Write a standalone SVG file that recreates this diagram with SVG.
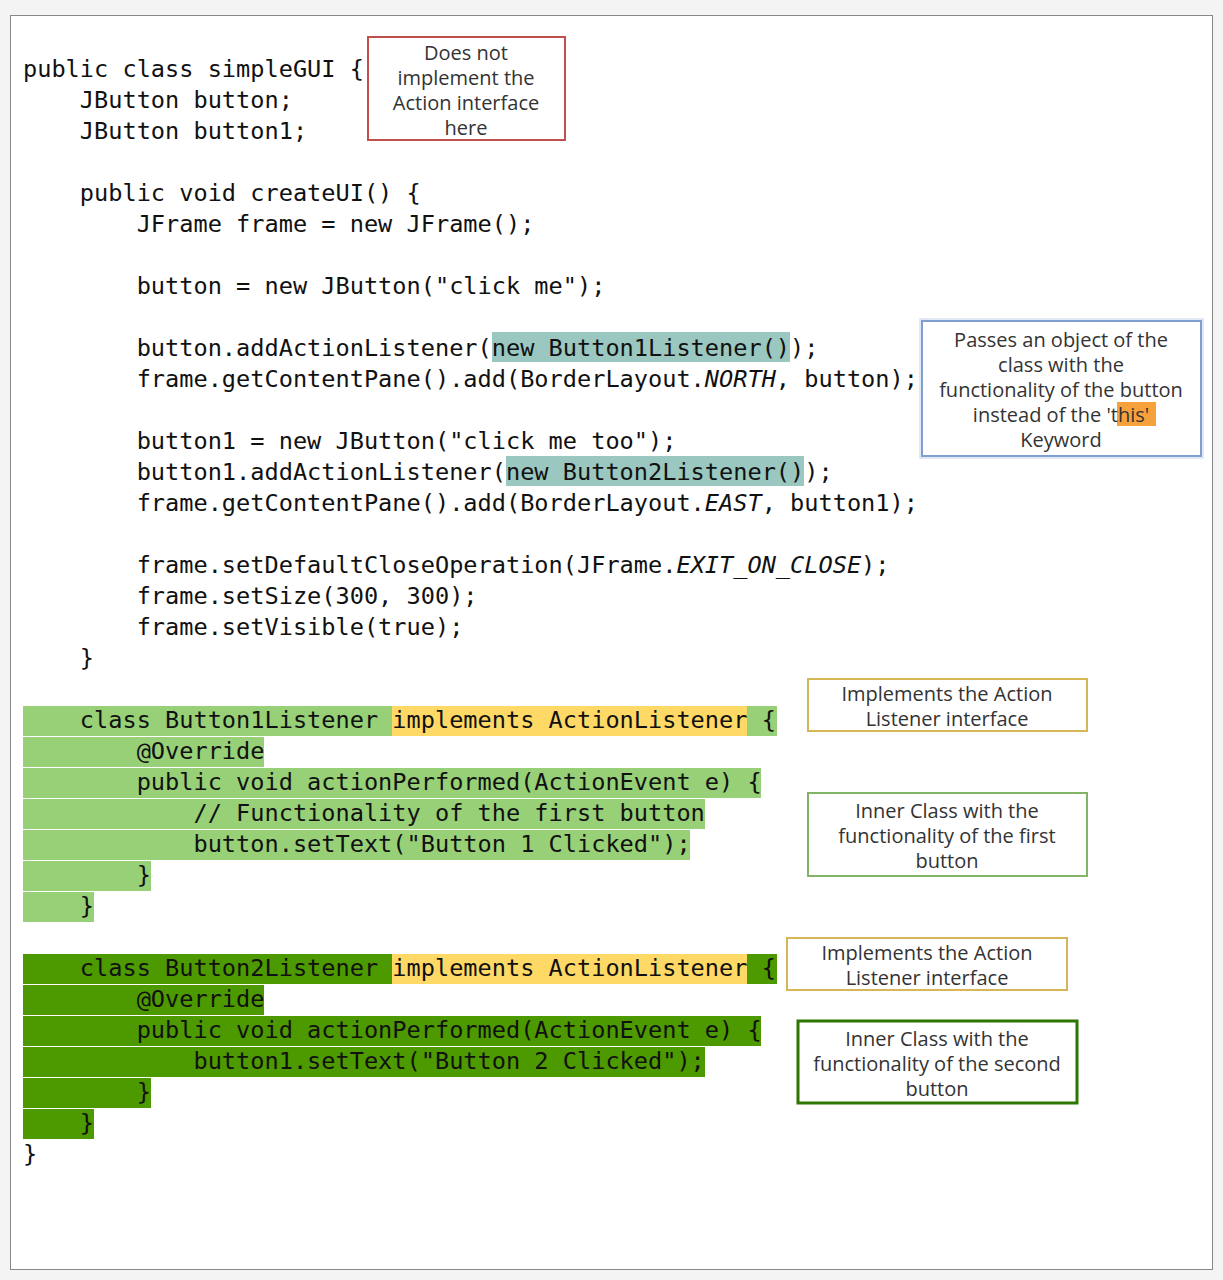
<svg xmlns="http://www.w3.org/2000/svg" width="1223" height="1280" viewBox="0 0 1223 1280">
<style>
.c{font-family:"DejaVu Sans Mono",monospace;font-size:23.6px;fill:#111;white-space:pre}
.n{font-family:"Open Sans","DejaVu Sans",sans-serif;font-size:20px;fill:#333;text-anchor:middle}
.lg{fill:#97d077}.dg{fill:#4d9900}.ye{fill:#ffd966}.te{fill:#9ac7bf}
i{font-style:italic}
</style>
<rect width="1223" height="1280" fill="#f4f4f4"/>
<rect x="10.5" y="15.5" width="1202" height="1254" fill="#fff" stroke="#888"/>
<g id="highlights">
<rect class="te" x="492" y="332" width="298" height="30"/>
<rect class="te" x="506" y="456" width="298" height="30"/>
<rect class="lg" x="23" y="706" width="754" height="30"/><rect class="ye" x="392" y="706" width="355" height="30"/>
<rect class="lg" x="23" y="737" width="241" height="30"/>
<rect class="lg" x="23" y="768" width="738" height="30"/>
<rect class="lg" x="23" y="799" width="682" height="30"/>
<rect class="lg" x="23" y="830" width="667" height="30"/>
<rect class="lg" x="23" y="861" width="128" height="30"/>
<rect class="lg" x="23" y="892" width="71" height="30"/>
<rect class="dg" x="23" y="954" width="754" height="30"/><rect class="ye" x="392" y="954" width="355" height="30"/>
<rect class="dg" x="23" y="985" width="241" height="30"/>
<rect class="dg" x="23" y="1016" width="738" height="30"/>
<rect class="dg" x="23" y="1047" width="682" height="30"/>
<rect class="dg" x="23" y="1078" width="128" height="30"/>
<rect class="dg" x="23" y="1109" width="71" height="30"/>
</g>
<g id="code">
<text class="c" x="23" y="77">public class simpleGUI {</text>
<text class="c" x="23" y="108">    JButton button;</text>
<text class="c" x="23" y="139">    JButton button1;</text>
<text class="c" x="23" y="201">    public void createUI() {</text>
<text class="c" x="23" y="232">        JFrame frame = new JFrame();</text>
<text class="c" x="23" y="294">        button = new JButton("click me");</text>
<text class="c" x="23" y="356">        button.addActionListener(new Button1Listener());</text>
<text class="c" x="23" y="387">        frame.getContentPane().add(BorderLayout.<tspan font-style="italic">NORTH</tspan>, button);</text>
<text class="c" x="23" y="449">        button1 = new JButton("click me too");</text>
<text class="c" x="23" y="480">        button1.addActionListener(new Button2Listener());</text>
<text class="c" x="23" y="511">        frame.getContentPane().add(BorderLayout.<tspan font-style="italic">EAST</tspan>, button1);</text>
<text class="c" x="23" y="573">        frame.setDefaultCloseOperation(JFrame.<tspan font-style="italic">EXIT_ON_CLOSE</tspan>);</text>
<text class="c" x="23" y="604">        frame.setSize(300, 300);</text>
<text class="c" x="23" y="635">        frame.setVisible(true);</text>
<text class="c" x="23" y="666">    }</text>
<text class="c" x="23" y="728">    class Button1Listener implements ActionListener {</text>
<text class="c" x="23" y="759">        @Override</text>
<text class="c" x="23" y="790">        public void actionPerformed(ActionEvent e) {</text>
<text class="c" x="23" y="821">            // Functionality of the first button</text>
<text class="c" x="23" y="852">            button.setText("Button 1 Clicked");</text>
<text class="c" x="23" y="883">        }</text>
<text class="c" x="23" y="914">    }</text>
<text class="c" x="23" y="976">    class Button2Listener implements ActionListener {</text>
<text class="c" x="23" y="1007">        @Override</text>
<text class="c" x="23" y="1038">        public void actionPerformed(ActionEvent e) {</text>
<text class="c" x="23" y="1069">            button1.setText("Button 2 Clicked");</text>
<text class="c" x="23" y="1100">        }</text>
<text class="c" x="23" y="1131">    }</text>
<text class="c" x="23" y="1162">}</text>
</g>
<g id="note-red">
<rect x="368" y="37" width="197" height="103" fill="#fff" stroke="#c0504d" stroke-width="2"/>
<text class="n" x="466" y="60">Does not</text><text class="n" x="466" y="85">implement the</text><text class="n" x="466" y="110">Action interface</text><text class="n" x="466" y="135">here</text>
</g>
<g id="note-blue">
<rect x="922" y="321" width="279" height="135" fill="#fff" stroke="#7f9fd0" stroke-width="2"/>
<rect x="920" y="319" width="283" height="139" fill="none" stroke="#c5d3ea" stroke-width="1"/>
<rect x="1117" y="402" width="39" height="24" fill="#f7a13c"/>
<text class="n" x="1061" y="347">Passes an object of the</text><text class="n" x="1061" y="372">class with the</text><text class="n" x="1061" y="397">functionality of the button</text><text class="n" x="1061" y="422">instead of the 'this'</text><text class="n" x="1061" y="447">Keyword</text>
</g>
<g id="note-y1">
<rect x="808" y="679" width="279" height="52" fill="#fff" stroke="#d6b656" stroke-width="2"/>
<text class="n" x="947" y="701">Implements the Action</text><text class="n" x="947" y="726">Listener interface</text>
</g>
<g id="note-g1">
<rect x="808" y="793" width="279" height="83" fill="#fff" stroke="#82b366" stroke-width="2"/>
<text class="n" x="947" y="818">Inner Class with the</text><text class="n" x="947" y="843">functionality of the first</text><text class="n" x="947" y="868">button</text>
</g>
<g id="note-y2">
<rect x="787" y="938" width="280" height="52" fill="#fff" stroke="#d6b656" stroke-width="2"/>
<text class="n" x="927" y="960">Implements the Action</text><text class="n" x="927" y="985">Listener interface</text>
</g>
<g id="note-g2">
<rect x="798" y="1021" width="279" height="82" fill="#fff" stroke="#2d7600" stroke-width="3"/>
<text class="n" x="937" y="1046">Inner Class with the</text><text class="n" x="937" y="1071">functionality of the second</text><text class="n" x="937" y="1096">button</text>
</g>
<g id="connectors"/>
</svg>
